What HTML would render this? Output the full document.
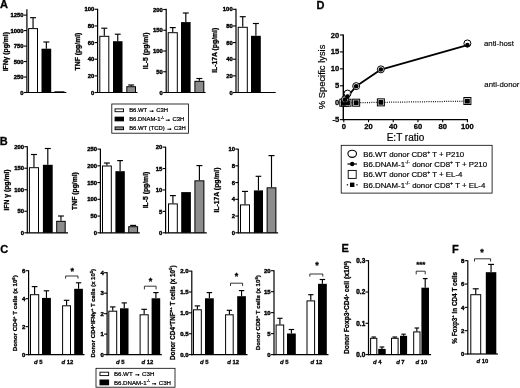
<!DOCTYPE html>
<html><head><meta charset="utf-8"><title>Figure</title>
<style>
html,body{margin:0;padding:0;background:#fff;}
body{width:520px;height:388px;overflow:hidden;}
svg{display:block;font-family:'Liberation Sans', 'DejaVu Sans', sans-serif;filter:grayscale(1);}
text{fill:#000;}
</style></head><body>
<svg width="520" height="388" viewBox="0 0 520 388">
<rect width="520" height="388" fill="#fff"/>
<text x="-0.1" y="8.2" font-size="11" font-weight="bold" text-anchor="start"  stroke="#000" stroke-width="0.28">A</text>
<text x="-0.2" y="144.7" font-size="11" font-weight="bold" text-anchor="start"  stroke="#000" stroke-width="0.28">B</text>
<text x="0.3" y="252.9" font-size="11" font-weight="bold" text-anchor="start"  stroke="#000" stroke-width="0.28">C</text>
<text x="316.6" y="8.6" font-size="11" font-weight="bold" text-anchor="start"  stroke="#000" stroke-width="0.28">D</text>
<text x="341.4" y="252.3" font-size="11" font-weight="bold" text-anchor="start"  stroke="#000" stroke-width="0.28">E</text>
<text x="452" y="252.8" font-size="11" font-weight="bold" text-anchor="start"  stroke="#000" stroke-width="0.28">F</text>
<line x1="33.05" y1="28.1" x2="33.05" y2="17.7" stroke="#000" stroke-width="1.15" />
<line x1="30.05" y1="17.7" x2="36.05" y2="17.7" stroke="#000" stroke-width="1.15" />
<rect x="28.1" y="28.1" width="9.9" height="64.4" fill="#000"/>
<rect x="29.1" y="29.1" width="7.9" height="63.4" fill="#fff"/>
<line x1="46.35" y1="48.7" x2="46.35" y2="42" stroke="#000" stroke-width="1.15" />
<line x1="43.35" y1="42" x2="49.35" y2="42" stroke="#000" stroke-width="1.15" />
<rect x="41.5" y="48.7" width="9.7" height="43.8" fill="#000"/>
<rect x="54.4" y="91.3" width="10" height="1.2" fill="#000"/>
<line x1="26.9" y1="9.15" x2="26.9" y2="93.05" stroke="#000" stroke-width="1.2" />
<line x1="26.35" y1="92.5" x2="66.3" y2="92.5" stroke="#000" stroke-width="1.2" />
<line x1="23.9" y1="92.5" x2="26.9" y2="92.5" stroke="#000" stroke-width="1.1" />
<text x="23.6" y="94.62" font-size="5.9" font-weight="bold" text-anchor="end" stroke="#000" stroke-width="0.4">0</text>
<line x1="23.9" y1="77.02" x2="26.9" y2="77.02" stroke="#000" stroke-width="1.1" />
<text x="23.6" y="79.14" font-size="5.9" font-weight="bold" text-anchor="end" stroke="#000" stroke-width="0.4">250</text>
<line x1="23.9" y1="61.54" x2="26.9" y2="61.54" stroke="#000" stroke-width="1.1" />
<text x="23.6" y="63.66" font-size="5.9" font-weight="bold" text-anchor="end" stroke="#000" stroke-width="0.4">500</text>
<line x1="23.9" y1="46.06" x2="26.9" y2="46.06" stroke="#000" stroke-width="1.1" />
<text x="23.6" y="48.18" font-size="5.9" font-weight="bold" text-anchor="end" stroke="#000" stroke-width="0.4">750</text>
<line x1="23.9" y1="30.58" x2="26.9" y2="30.58" stroke="#000" stroke-width="1.1" />
<text x="23.6" y="32.7" font-size="5.9" font-weight="bold" text-anchor="end" stroke="#000" stroke-width="0.4">1000</text>
<line x1="23.9" y1="15.1" x2="26.9" y2="15.1" stroke="#000" stroke-width="1.1" />
<text x="23.6" y="17.22" font-size="5.9" font-weight="bold" text-anchor="end" stroke="#000" stroke-width="0.4">1250</text>
<text x="7.6" y="51.7" font-size="6.8" font-weight="bold" text-anchor="middle" transform="rotate(-90 7.6 51.7)"  stroke="#000" stroke-width="0.28">IFN&#947; (pg/ml)</text>
<line x1="104.3" y1="35.8" x2="104.3" y2="28.2" stroke="#000" stroke-width="1.15" />
<line x1="101.3" y1="28.2" x2="107.3" y2="28.2" stroke="#000" stroke-width="1.15" />
<rect x="99.3" y="35.8" width="10" height="56.7" fill="#000"/>
<rect x="100.3" y="36.8" width="8" height="55.7" fill="#fff"/>
<line x1="117.75" y1="41.2" x2="117.75" y2="34.2" stroke="#000" stroke-width="1.15" />
<line x1="114.81" y1="34.2" x2="120.69" y2="34.2" stroke="#000" stroke-width="1.15" />
<rect x="113" y="41.2" width="9.5" height="51.3" fill="#000"/>
<line x1="131.15" y1="86.2" x2="131.15" y2="85" stroke="#000" stroke-width="1.15" />
<line x1="128.15" y1="85" x2="134.15" y2="85" stroke="#000" stroke-width="1.15" />
<rect x="126.3" y="86.2" width="9.7" height="6.3" fill="#000"/>
<rect x="127.3" y="87.2" width="7.7" height="5.3" fill="#8c8c8c"/>
<line x1="97.6" y1="8.85" x2="97.6" y2="93.05" stroke="#000" stroke-width="1.2" />
<line x1="97.05" y1="92.5" x2="137.5" y2="92.5" stroke="#000" stroke-width="1.2" />
<line x1="94.6" y1="92.5" x2="97.6" y2="92.5" stroke="#000" stroke-width="1.1" />
<text x="94.3" y="94.62" font-size="5.9" font-weight="bold" text-anchor="end" stroke="#000" stroke-width="0.4">0</text>
<line x1="94.6" y1="75.86" x2="97.6" y2="75.86" stroke="#000" stroke-width="1.1" />
<text x="94.3" y="77.98" font-size="5.9" font-weight="bold" text-anchor="end" stroke="#000" stroke-width="0.4">20</text>
<line x1="94.6" y1="59.22" x2="97.6" y2="59.22" stroke="#000" stroke-width="1.1" />
<text x="94.3" y="61.34" font-size="5.9" font-weight="bold" text-anchor="end" stroke="#000" stroke-width="0.4">40</text>
<line x1="94.6" y1="42.58" x2="97.6" y2="42.58" stroke="#000" stroke-width="1.1" />
<text x="94.3" y="44.7" font-size="5.9" font-weight="bold" text-anchor="end" stroke="#000" stroke-width="0.4">60</text>
<line x1="94.6" y1="25.94" x2="97.6" y2="25.94" stroke="#000" stroke-width="1.1" />
<text x="94.3" y="28.06" font-size="5.9" font-weight="bold" text-anchor="end" stroke="#000" stroke-width="0.4">80</text>
<line x1="94.6" y1="9.3" x2="97.6" y2="9.3" stroke="#000" stroke-width="1.1" />
<text x="94.3" y="11.42" font-size="5.9" font-weight="bold" text-anchor="end" stroke="#000" stroke-width="0.4">100</text>
<text x="79.6" y="51.5" font-size="6.8" font-weight="bold" text-anchor="middle" transform="rotate(-90 79.6 51.5)"  stroke="#000" stroke-width="0.28">TNF (pg/ml)</text>
<line x1="172.75" y1="32.2" x2="172.75" y2="27.6" stroke="#000" stroke-width="1.15" />
<line x1="169.75" y1="27.6" x2="175.75" y2="27.6" stroke="#000" stroke-width="1.15" />
<rect x="167.7" y="32.2" width="10.1" height="60.3" fill="#000"/>
<rect x="168.7" y="33.2" width="8.1" height="59.3" fill="#fff"/>
<line x1="185.8" y1="22.1" x2="185.8" y2="13" stroke="#000" stroke-width="1.15" />
<line x1="182.82" y1="13" x2="188.78" y2="13" stroke="#000" stroke-width="1.15" />
<rect x="181" y="22.1" width="9.6" height="70.4" fill="#000"/>
<line x1="199.35" y1="80.8" x2="199.35" y2="78.5" stroke="#000" stroke-width="1.15" />
<line x1="196.35" y1="78.5" x2="202.35" y2="78.5" stroke="#000" stroke-width="1.15" />
<rect x="194.4" y="80.8" width="9.9" height="11.7" fill="#000"/>
<rect x="195.4" y="81.8" width="7.9" height="10.7" fill="#8c8c8c"/>
<line x1="166.2" y1="8.85" x2="166.2" y2="93.05" stroke="#000" stroke-width="1.2" />
<line x1="165.65" y1="92.5" x2="205.6" y2="92.5" stroke="#000" stroke-width="1.2" />
<line x1="163.2" y1="92.5" x2="166.2" y2="92.5" stroke="#000" stroke-width="1.1" />
<text x="162.9" y="94.62" font-size="5.9" font-weight="bold" text-anchor="end" stroke="#000" stroke-width="0.4">0</text>
<line x1="163.2" y1="71.75" x2="166.2" y2="71.75" stroke="#000" stroke-width="1.1" />
<text x="162.9" y="73.87" font-size="5.9" font-weight="bold" text-anchor="end" stroke="#000" stroke-width="0.4">50</text>
<line x1="163.2" y1="51" x2="166.2" y2="51" stroke="#000" stroke-width="1.1" />
<text x="162.9" y="53.12" font-size="5.9" font-weight="bold" text-anchor="end" stroke="#000" stroke-width="0.4">100</text>
<line x1="163.2" y1="30.25" x2="166.2" y2="30.25" stroke="#000" stroke-width="1.1" />
<text x="162.9" y="32.37" font-size="5.9" font-weight="bold" text-anchor="end" stroke="#000" stroke-width="0.4">150</text>
<line x1="163.2" y1="9.5" x2="166.2" y2="9.5" stroke="#000" stroke-width="1.1" />
<text x="162.9" y="11.62" font-size="5.9" font-weight="bold" text-anchor="end" stroke="#000" stroke-width="0.4">200</text>
<text x="148.3" y="50.9" font-size="6.8" font-weight="bold" text-anchor="middle" transform="rotate(-90 148.3 50.9)"  stroke="#000" stroke-width="0.28">IL-5 (pg/ml)</text>
<line x1="242.75" y1="26.8" x2="242.75" y2="16.7" stroke="#000" stroke-width="1.15" />
<line x1="239.75" y1="16.7" x2="245.75" y2="16.7" stroke="#000" stroke-width="1.15" />
<rect x="237.7" y="26.8" width="10.1" height="65.7" fill="#000"/>
<rect x="238.7" y="27.8" width="8.1" height="64.7" fill="#fff"/>
<line x1="255.9" y1="35.8" x2="255.9" y2="23.5" stroke="#000" stroke-width="1.15" />
<line x1="252.9" y1="23.5" x2="258.9" y2="23.5" stroke="#000" stroke-width="1.15" />
<rect x="251" y="35.8" width="9.8" height="56.7" fill="#000"/>
<line x1="236" y1="8.85" x2="236" y2="93.05" stroke="#000" stroke-width="1.2" />
<line x1="235.45" y1="92.5" x2="275.7" y2="92.5" stroke="#000" stroke-width="1.2" />
<line x1="233" y1="92.5" x2="236" y2="92.5" stroke="#000" stroke-width="1.1" />
<text x="232.7" y="94.62" font-size="5.9" font-weight="bold" text-anchor="end" stroke="#000" stroke-width="0.4">0</text>
<line x1="233" y1="75.86" x2="236" y2="75.86" stroke="#000" stroke-width="1.1" />
<text x="232.7" y="77.98" font-size="5.9" font-weight="bold" text-anchor="end" stroke="#000" stroke-width="0.4">20</text>
<line x1="233" y1="59.22" x2="236" y2="59.22" stroke="#000" stroke-width="1.1" />
<text x="232.7" y="61.34" font-size="5.9" font-weight="bold" text-anchor="end" stroke="#000" stroke-width="0.4">40</text>
<line x1="233" y1="42.58" x2="236" y2="42.58" stroke="#000" stroke-width="1.1" />
<text x="232.7" y="44.7" font-size="5.9" font-weight="bold" text-anchor="end" stroke="#000" stroke-width="0.4">60</text>
<line x1="233" y1="25.94" x2="236" y2="25.94" stroke="#000" stroke-width="1.1" />
<text x="232.7" y="28.06" font-size="5.9" font-weight="bold" text-anchor="end" stroke="#000" stroke-width="0.4">80</text>
<line x1="233" y1="9.3" x2="236" y2="9.3" stroke="#000" stroke-width="1.1" />
<text x="232.7" y="11.42" font-size="5.9" font-weight="bold" text-anchor="end" stroke="#000" stroke-width="0.4">100</text>
<text x="216.6" y="50.3" font-size="6.8" font-weight="bold" text-anchor="middle" transform="rotate(-90 216.6 50.3)"  stroke="#000" stroke-width="0.28">IL-17A (pg/ml)</text>
<rect x="111.8" y="104.0" width="76.6" height="29.2" fill="#fff" stroke="#000" stroke-width="0.8"/>
<rect x="114.6" y="108.45" width="9.4" height="3.7" fill="#000"/>
<rect x="115.5" y="109.35" width="7.6" height="1.9" fill="#fff"/>
<text x="129.2" y="112.42" font-size="5.9" font-weight="normal" text-anchor="start" stroke="#000" stroke-width="0.22">B6.WT <tspan font-weight="bold" stroke-width="0.55">&#8594;</tspan> C3H</text>
<rect x="114.6" y="116.65" width="9.4" height="4.7" fill="#000"/>
<text x="129.2" y="121.12" font-size="5.9" font-weight="normal" text-anchor="start" stroke="#000" stroke-width="0.22">B6.DNAM-1<tspan font-size="3.6" dy="-2.3">-/-</tspan><tspan font-size="3" dy="2.3"> </tspan><tspan font-weight="bold" stroke-width="0.55">&#8594;</tspan> C3H</text>
<rect x="114.6" y="126.45" width="9.4" height="3.7" fill="#000"/>
<rect x="115.5" y="127.35" width="7.6" height="1.9" fill="#8c8c8c"/>
<text x="129.2" y="130.42" font-size="5.9" font-weight="normal" text-anchor="start" stroke="#000" stroke-width="0.22">B6.WT (TCD) <tspan font-weight="bold" stroke-width="0.55">&#8594;</tspan> C3H</text>
<line x1="33.95" y1="167.2" x2="33.95" y2="154.5" stroke="#000" stroke-width="1.15" />
<line x1="30.95" y1="154.5" x2="36.95" y2="154.5" stroke="#000" stroke-width="1.15" />
<rect x="28.9" y="167.2" width="10.1" height="65.6" fill="#000"/>
<rect x="29.9" y="168.2" width="8.1" height="64.6" fill="#fff"/>
<line x1="47.8" y1="164.8" x2="47.8" y2="148.5" stroke="#000" stroke-width="1.15" />
<line x1="44.8" y1="148.5" x2="50.8" y2="148.5" stroke="#000" stroke-width="1.15" />
<rect x="42.9" y="164.8" width="9.8" height="68" fill="#000"/>
<line x1="60.95" y1="220.8" x2="60.95" y2="216" stroke="#000" stroke-width="1.15" />
<line x1="58.01" y1="216" x2="63.9" y2="216" stroke="#000" stroke-width="1.15" />
<rect x="56.2" y="220.8" width="9.5" height="12" fill="#000"/>
<rect x="57.2" y="221.8" width="7.5" height="11" fill="#8c8c8c"/>
<line x1="27.3" y1="146.25" x2="27.3" y2="233.35" stroke="#000" stroke-width="1.2" />
<line x1="26.75" y1="232.8" x2="68" y2="232.8" stroke="#000" stroke-width="1.2" />
<line x1="24.3" y1="232.8" x2="27.3" y2="232.8" stroke="#000" stroke-width="1.1" />
<text x="24" y="234.92" font-size="5.9" font-weight="bold" text-anchor="end" stroke="#000" stroke-width="0.4">0</text>
<line x1="24.3" y1="211.28" x2="27.3" y2="211.28" stroke="#000" stroke-width="1.1" />
<text x="24" y="213.4" font-size="5.9" font-weight="bold" text-anchor="end" stroke="#000" stroke-width="0.4">50</text>
<line x1="24.3" y1="189.75" x2="27.3" y2="189.75" stroke="#000" stroke-width="1.1" />
<text x="24" y="191.87" font-size="5.9" font-weight="bold" text-anchor="end" stroke="#000" stroke-width="0.4">100</text>
<line x1="24.3" y1="168.22" x2="27.3" y2="168.22" stroke="#000" stroke-width="1.1" />
<text x="24" y="170.35" font-size="5.9" font-weight="bold" text-anchor="end" stroke="#000" stroke-width="0.4">150</text>
<line x1="24.3" y1="146.7" x2="27.3" y2="146.7" stroke="#000" stroke-width="1.1" />
<text x="24" y="148.82" font-size="5.9" font-weight="bold" text-anchor="end" stroke="#000" stroke-width="0.4">200</text>
<text x="8.9" y="190" font-size="6.8" font-weight="bold" text-anchor="middle" transform="rotate(-90 8.9 190)"  stroke="#000" stroke-width="0.28">IFN &#947; (pg/ml)</text>
<line x1="106.9" y1="165.5" x2="106.9" y2="163" stroke="#000" stroke-width="1.15" />
<line x1="103.9" y1="163" x2="109.9" y2="163" stroke="#000" stroke-width="1.15" />
<rect x="102" y="165.5" width="9.8" height="67.3" fill="#000"/>
<rect x="103" y="166.5" width="7.8" height="66.3" fill="#fff"/>
<line x1="120.1" y1="171.2" x2="120.1" y2="160.6" stroke="#000" stroke-width="1.15" />
<line x1="117.19" y1="160.6" x2="123.01" y2="160.6" stroke="#000" stroke-width="1.15" />
<rect x="115.4" y="171.2" width="9.4" height="61.6" fill="#000"/>
<line x1="133.15" y1="226.2" x2="133.15" y2="225.4" stroke="#000" stroke-width="1.15" />
<line x1="130.15" y1="225.4" x2="136.15" y2="225.4" stroke="#000" stroke-width="1.15" />
<rect x="128.2" y="226.2" width="9.9" height="6.6" fill="#000"/>
<rect x="129.2" y="227.2" width="7.9" height="5.6" fill="#8c8c8c"/>
<line x1="100.4" y1="148.65" x2="100.4" y2="233.35" stroke="#000" stroke-width="1.2" />
<line x1="99.85" y1="232.8" x2="139.8" y2="232.8" stroke="#000" stroke-width="1.2" />
<line x1="97.4" y1="232.8" x2="100.4" y2="232.8" stroke="#000" stroke-width="1.1" />
<text x="97.1" y="234.92" font-size="5.9" font-weight="bold" text-anchor="end" stroke="#000" stroke-width="0.4">0</text>
<line x1="97.4" y1="216.06" x2="100.4" y2="216.06" stroke="#000" stroke-width="1.1" />
<text x="97.1" y="218.18" font-size="5.9" font-weight="bold" text-anchor="end" stroke="#000" stroke-width="0.4">50</text>
<line x1="97.4" y1="199.32" x2="100.4" y2="199.32" stroke="#000" stroke-width="1.1" />
<text x="97.1" y="201.44" font-size="5.9" font-weight="bold" text-anchor="end" stroke="#000" stroke-width="0.4">100</text>
<line x1="97.4" y1="182.58" x2="100.4" y2="182.58" stroke="#000" stroke-width="1.1" />
<text x="97.1" y="184.7" font-size="5.9" font-weight="bold" text-anchor="end" stroke="#000" stroke-width="0.4">150</text>
<line x1="97.4" y1="165.84" x2="100.4" y2="165.84" stroke="#000" stroke-width="1.1" />
<text x="97.1" y="167.96" font-size="5.9" font-weight="bold" text-anchor="end" stroke="#000" stroke-width="0.4">200</text>
<line x1="97.4" y1="149.1" x2="100.4" y2="149.1" stroke="#000" stroke-width="1.1" />
<text x="97.1" y="151.22" font-size="5.9" font-weight="bold" text-anchor="end" stroke="#000" stroke-width="0.4">250</text>
<text x="77" y="191" font-size="6.8" font-weight="bold" text-anchor="middle" transform="rotate(-90 77 191)"  stroke="#000" stroke-width="0.28">TNF (pg/ml)</text>
<line x1="172.9" y1="203.4" x2="172.9" y2="195.6" stroke="#000" stroke-width="1.15" />
<line x1="169.9" y1="195.6" x2="175.9" y2="195.6" stroke="#000" stroke-width="1.15" />
<rect x="168" y="203.4" width="9.8" height="29.4" fill="#000"/>
<rect x="169" y="204.4" width="7.8" height="28.4" fill="#fff"/>
<rect x="181.2" y="192.1" width="9.7" height="40.7" fill="#000"/>
<line x1="199.4" y1="180.3" x2="199.4" y2="165.6" stroke="#000" stroke-width="1.15" />
<line x1="196.4" y1="165.6" x2="202.4" y2="165.6" stroke="#000" stroke-width="1.15" />
<rect x="194.4" y="180.3" width="10" height="52.5" fill="#000"/>
<rect x="195.4" y="181.3" width="8" height="51.5" fill="#8c8c8c"/>
<line x1="165.6" y1="146.65" x2="165.6" y2="233.35" stroke="#000" stroke-width="1.2" />
<line x1="165.05" y1="232.8" x2="206.8" y2="232.8" stroke="#000" stroke-width="1.2" />
<line x1="162.6" y1="232.8" x2="165.6" y2="232.8" stroke="#000" stroke-width="1.1" />
<text x="162.3" y="234.92" font-size="5.9" font-weight="bold" text-anchor="end" stroke="#000" stroke-width="0.4">0</text>
<line x1="162.6" y1="211.38" x2="165.6" y2="211.38" stroke="#000" stroke-width="1.1" />
<text x="162.3" y="213.5" font-size="5.9" font-weight="bold" text-anchor="end" stroke="#000" stroke-width="0.4">5</text>
<line x1="162.6" y1="189.95" x2="165.6" y2="189.95" stroke="#000" stroke-width="1.1" />
<text x="162.3" y="192.07" font-size="5.9" font-weight="bold" text-anchor="end" stroke="#000" stroke-width="0.4">10</text>
<line x1="162.6" y1="168.53" x2="165.6" y2="168.53" stroke="#000" stroke-width="1.1" />
<text x="162.3" y="170.65" font-size="5.9" font-weight="bold" text-anchor="end" stroke="#000" stroke-width="0.4">15</text>
<line x1="162.6" y1="147.1" x2="165.6" y2="147.1" stroke="#000" stroke-width="1.1" />
<text x="162.3" y="149.22" font-size="5.9" font-weight="bold" text-anchor="end" stroke="#000" stroke-width="0.4">20</text>
<text x="147.5" y="190" font-size="6.8" font-weight="bold" text-anchor="middle" transform="rotate(-90 147.5 190)"  stroke="#000" stroke-width="0.28">IL-5 (pg/ml)</text>
<line x1="245" y1="204.4" x2="245" y2="191.4" stroke="#000" stroke-width="1.15" />
<line x1="242" y1="191.4" x2="248" y2="191.4" stroke="#000" stroke-width="1.15" />
<rect x="240" y="204.4" width="10" height="28.4" fill="#000"/>
<rect x="241" y="205.4" width="8" height="27.4" fill="#fff"/>
<line x1="258.45" y1="190.4" x2="258.45" y2="176.3" stroke="#000" stroke-width="1.15" />
<line x1="255.63" y1="176.3" x2="261.27" y2="176.3" stroke="#000" stroke-width="1.15" />
<rect x="253.9" y="190.4" width="9.1" height="42.4" fill="#000"/>
<line x1="271.5" y1="187.3" x2="271.5" y2="155.6" stroke="#000" stroke-width="1.15" />
<line x1="268.5" y1="155.6" x2="274.5" y2="155.6" stroke="#000" stroke-width="1.15" />
<rect x="266.6" y="187.3" width="9.8" height="45.5" fill="#000"/>
<rect x="267.6" y="188.3" width="7.8" height="44.5" fill="#8c8c8c"/>
<line x1="238.3" y1="148.65" x2="238.3" y2="233.35" stroke="#000" stroke-width="1.2" />
<line x1="237.75" y1="232.8" x2="278.1" y2="232.8" stroke="#000" stroke-width="1.2" />
<line x1="235.3" y1="232.8" x2="238.3" y2="232.8" stroke="#000" stroke-width="1.1" />
<text x="235" y="234.92" font-size="5.9" font-weight="bold" text-anchor="end" stroke="#000" stroke-width="0.4">0</text>
<line x1="235.3" y1="216.06" x2="238.3" y2="216.06" stroke="#000" stroke-width="1.1" />
<text x="235" y="218.18" font-size="5.9" font-weight="bold" text-anchor="end" stroke="#000" stroke-width="0.4">2</text>
<line x1="235.3" y1="199.32" x2="238.3" y2="199.32" stroke="#000" stroke-width="1.1" />
<text x="235" y="201.44" font-size="5.9" font-weight="bold" text-anchor="end" stroke="#000" stroke-width="0.4">4</text>
<line x1="235.3" y1="182.58" x2="238.3" y2="182.58" stroke="#000" stroke-width="1.1" />
<text x="235" y="184.7" font-size="5.9" font-weight="bold" text-anchor="end" stroke="#000" stroke-width="0.4">6</text>
<line x1="235.3" y1="165.84" x2="238.3" y2="165.84" stroke="#000" stroke-width="1.1" />
<text x="235" y="167.96" font-size="5.9" font-weight="bold" text-anchor="end" stroke="#000" stroke-width="0.4">8</text>
<line x1="235.3" y1="149.1" x2="238.3" y2="149.1" stroke="#000" stroke-width="1.1" />
<text x="235" y="151.22" font-size="5.9" font-weight="bold" text-anchor="end" stroke="#000" stroke-width="0.4">10</text>
<text x="218.6" y="190" font-size="6.8" font-weight="bold" text-anchor="middle" transform="rotate(-90 218.6 190)"  stroke="#000" stroke-width="0.28">IL-17A (pg/ml)</text>
<line x1="34.6" y1="294.2" x2="34.6" y2="286.6" stroke="#000" stroke-width="1.15" />
<line x1="31.75" y1="286.6" x2="37.45" y2="286.6" stroke="#000" stroke-width="1.15" />
<rect x="30" y="294.2" width="9.2" height="60.4" fill="#000"/>
<rect x="31" y="295.2" width="7.2" height="59.4" fill="#fff"/>
<line x1="46.45" y1="297.9" x2="46.45" y2="290.8" stroke="#000" stroke-width="1.15" />
<line x1="43.69" y1="290.8" x2="49.21" y2="290.8" stroke="#000" stroke-width="1.15" />
<rect x="42" y="297.9" width="8.9" height="56.7" fill="#000"/>
<line x1="66.55" y1="305.3" x2="66.55" y2="300.3" stroke="#000" stroke-width="1.15" />
<line x1="63.79" y1="300.3" x2="69.31" y2="300.3" stroke="#000" stroke-width="1.15" />
<rect x="62.1" y="305.3" width="8.9" height="49.3" fill="#000"/>
<rect x="63.1" y="306.3" width="6.9" height="48.3" fill="#fff"/>
<line x1="78.55" y1="288.8" x2="78.55" y2="282.8" stroke="#000" stroke-width="1.15" />
<line x1="75.85" y1="282.8" x2="81.25" y2="282.8" stroke="#000" stroke-width="1.15" />
<rect x="74.2" y="288.8" width="8.7" height="65.8" fill="#000"/>
<line x1="28.6" y1="270.25" x2="28.6" y2="355.15" stroke="#000" stroke-width="1.2" />
<line x1="28.05" y1="354.6" x2="84.5" y2="354.6" stroke="#000" stroke-width="1.2" />
<line x1="25.6" y1="354.6" x2="28.6" y2="354.6" stroke="#000" stroke-width="1.1" />
<text x="25.3" y="356.76" font-size="6" font-weight="bold" text-anchor="end" stroke="#000" stroke-width="0.4">0</text>
<line x1="25.6" y1="326.63" x2="28.6" y2="326.63" stroke="#000" stroke-width="1.1" />
<text x="25.3" y="328.79" font-size="6" font-weight="bold" text-anchor="end" stroke="#000" stroke-width="0.4">2</text>
<line x1="25.6" y1="298.67" x2="28.6" y2="298.67" stroke="#000" stroke-width="1.1" />
<text x="25.3" y="300.83" font-size="6" font-weight="bold" text-anchor="end" stroke="#000" stroke-width="0.4">4</text>
<line x1="25.6" y1="270.7" x2="28.6" y2="270.7" stroke="#000" stroke-width="1.1" />
<text x="25.3" y="272.86" font-size="6" font-weight="bold" text-anchor="end" stroke="#000" stroke-width="0.4">6</text>
<text x="17.3" y="313.2" font-size="6.2" font-weight="bold" text-anchor="middle" transform="rotate(-90 17.3 313.2)"  stroke="#000" stroke-width="0.28">Donor CD4<tspan font-size="4.2" dy="-2.4">+</tspan><tspan font-size="4.2" dy="2.4">&#8203;</tspan> T cells (x 10<tspan font-size="4.2" dy="-2.4">6</tspan><tspan font-size="4.2" dy="2.4">&#8203;</tspan>)</text>
<text x="38.2" y="363.6" font-size="5.9" font-weight="bold" text-anchor="middle" stroke="#000" stroke-width="0.28"><tspan font-style="italic">d</tspan> 5</text>
<text x="67.4" y="363.6" font-size="5.9" font-weight="bold" text-anchor="middle" stroke="#000" stroke-width="0.28"><tspan font-style="italic">d</tspan> 12</text>
<path d="M65.6 278.6 V276 H78 V278.6" fill="none" stroke="#000" stroke-width="0.8"/>
<text x="72.2" y="274.26" font-size="9" font-weight="bold" text-anchor="middle"  stroke="#000" stroke-width="0.28">*</text>
<line x1="112.75" y1="310.7" x2="112.75" y2="306.9" stroke="#000" stroke-width="1.15" />
<line x1="109.99" y1="306.9" x2="115.51" y2="306.9" stroke="#000" stroke-width="1.15" />
<rect x="108.3" y="310.7" width="8.9" height="43.9" fill="#000"/>
<rect x="109.3" y="311.7" width="6.9" height="42.9" fill="#fff"/>
<line x1="124.25" y1="308.3" x2="124.25" y2="302.9" stroke="#000" stroke-width="1.15" />
<line x1="121.61" y1="302.9" x2="126.89" y2="302.9" stroke="#000" stroke-width="1.15" />
<rect x="120" y="308.3" width="8.5" height="46.3" fill="#000"/>
<line x1="144.15" y1="314.3" x2="144.15" y2="309.3" stroke="#000" stroke-width="1.15" />
<line x1="141.33" y1="309.3" x2="146.97" y2="309.3" stroke="#000" stroke-width="1.15" />
<rect x="139.6" y="314.3" width="9.1" height="40.3" fill="#000"/>
<rect x="140.6" y="315.3" width="7.1" height="39.3" fill="#fff"/>
<line x1="155.9" y1="298.3" x2="155.9" y2="292.6" stroke="#000" stroke-width="1.15" />
<line x1="153.23" y1="292.6" x2="158.57" y2="292.6" stroke="#000" stroke-width="1.15" />
<rect x="151.6" y="298.3" width="8.6" height="56.3" fill="#000"/>
<line x1="107.1" y1="272.25" x2="107.1" y2="355.15" stroke="#000" stroke-width="1.2" />
<line x1="106.55" y1="354.6" x2="161.8" y2="354.6" stroke="#000" stroke-width="1.2" />
<line x1="104.1" y1="354.6" x2="107.1" y2="354.6" stroke="#000" stroke-width="1.1" />
<text x="103.8" y="356.76" font-size="6" font-weight="bold" text-anchor="end" stroke="#000" stroke-width="0.4">0</text>
<line x1="104.1" y1="334.12" x2="107.1" y2="334.12" stroke="#000" stroke-width="1.1" />
<text x="103.8" y="336.29" font-size="6" font-weight="bold" text-anchor="end" stroke="#000" stroke-width="0.4">1</text>
<line x1="104.1" y1="313.65" x2="107.1" y2="313.65" stroke="#000" stroke-width="1.1" />
<text x="103.8" y="315.81" font-size="6" font-weight="bold" text-anchor="end" stroke="#000" stroke-width="0.4">2</text>
<line x1="104.1" y1="293.18" x2="107.1" y2="293.18" stroke="#000" stroke-width="1.1" />
<text x="103.8" y="295.34" font-size="6" font-weight="bold" text-anchor="end" stroke="#000" stroke-width="0.4">3</text>
<line x1="104.1" y1="272.7" x2="107.1" y2="272.7" stroke="#000" stroke-width="1.1" />
<text x="103.8" y="274.86" font-size="6" font-weight="bold" text-anchor="end" stroke="#000" stroke-width="0.4">4</text>
<text x="95.4" y="313.2" font-size="5.95" font-weight="bold" text-anchor="middle" transform="rotate(-90 95.4 313.2)"  stroke="#000" stroke-width="0.28">Donor CD4<tspan font-size="4.2" dy="-2.4">+</tspan><tspan font-size="4.2" dy="2.4">&#8203;</tspan>IFN&#947;<tspan font-size="4.2" dy="-2.4">+</tspan><tspan font-size="4.2" dy="2.4">&#8203;</tspan> T cells (x 10<tspan font-size="4.2" dy="-2.4">5</tspan><tspan font-size="4.2" dy="2.4">&#8203;</tspan>)</text>
<text x="120.3" y="363.6" font-size="5.9" font-weight="bold" text-anchor="middle" stroke="#000" stroke-width="0.28"><tspan font-style="italic">d</tspan> 5</text>
<text x="147.5" y="363.6" font-size="5.9" font-weight="bold" text-anchor="middle" stroke="#000" stroke-width="0.28"><tspan font-style="italic">d</tspan> 12</text>
<path d="M144.4 289.4 V286.2 H156.1 V289.4" fill="none" stroke="#000" stroke-width="0.8"/>
<text x="150.5" y="283.76" font-size="9" font-weight="bold" text-anchor="middle"  stroke="#000" stroke-width="0.28">*</text>
<line x1="197.4" y1="309.3" x2="197.4" y2="305.9" stroke="#000" stroke-width="1.15" />
<line x1="194.67" y1="305.9" x2="200.13" y2="305.9" stroke="#000" stroke-width="1.15" />
<rect x="193" y="309.3" width="8.8" height="45.3" fill="#000"/>
<rect x="194" y="310.3" width="6.8" height="44.3" fill="#fff"/>
<line x1="209.4" y1="298.3" x2="209.4" y2="292.6" stroke="#000" stroke-width="1.15" />
<line x1="206.67" y1="292.6" x2="212.13" y2="292.6" stroke="#000" stroke-width="1.15" />
<rect x="205" y="298.3" width="8.8" height="56.3" fill="#000"/>
<line x1="229.4" y1="314.3" x2="229.4" y2="310.3" stroke="#000" stroke-width="1.15" />
<line x1="226.73" y1="310.3" x2="232.07" y2="310.3" stroke="#000" stroke-width="1.15" />
<rect x="225.1" y="314.3" width="8.6" height="40.3" fill="#000"/>
<rect x="226.1" y="315.3" width="6.6" height="39.3" fill="#fff"/>
<line x1="241.55" y1="296.2" x2="241.55" y2="290.6" stroke="#000" stroke-width="1.15" />
<line x1="238.85" y1="290.6" x2="244.25" y2="290.6" stroke="#000" stroke-width="1.15" />
<rect x="237.2" y="296.2" width="8.7" height="58.4" fill="#000"/>
<line x1="191.8" y1="270.65" x2="191.8" y2="355.15" stroke="#000" stroke-width="1.2" />
<line x1="191.25" y1="354.6" x2="247.5" y2="354.6" stroke="#000" stroke-width="1.2" />
<line x1="188.8" y1="354.6" x2="191.8" y2="354.6" stroke="#000" stroke-width="1.1" />
<text x="188.5" y="356.76" font-size="6" font-weight="bold" text-anchor="end" stroke="#000" stroke-width="0.4">0.0</text>
<line x1="188.8" y1="333.73" x2="191.8" y2="333.73" stroke="#000" stroke-width="1.1" />
<text x="188.5" y="335.89" font-size="6" font-weight="bold" text-anchor="end" stroke="#000" stroke-width="0.4">0.5</text>
<line x1="188.8" y1="312.85" x2="191.8" y2="312.85" stroke="#000" stroke-width="1.1" />
<text x="188.5" y="315.01" font-size="6" font-weight="bold" text-anchor="end" stroke="#000" stroke-width="0.4">1.0</text>
<line x1="188.8" y1="291.98" x2="191.8" y2="291.98" stroke="#000" stroke-width="1.1" />
<text x="188.5" y="294.14" font-size="6" font-weight="bold" text-anchor="end" stroke="#000" stroke-width="0.4">1.5</text>
<line x1="188.8" y1="271.1" x2="191.8" y2="271.1" stroke="#000" stroke-width="1.1" />
<text x="188.5" y="273.26" font-size="6" font-weight="bold" text-anchor="end" stroke="#000" stroke-width="0.4">2.0</text>
<text x="174.6" y="312.7" font-size="6.3" font-weight="bold" text-anchor="middle" transform="rotate(-90 174.6 312.7)"  stroke="#000" stroke-width="0.28">Donor CD4<tspan font-size="4.2" dy="-2.4">+</tspan><tspan font-size="4.2" dy="2.4">&#8203;</tspan>TNF<tspan font-size="4.2" dy="-2.4">&#945;</tspan><tspan font-size="4.2" dy="2.4">&#8203;</tspan><tspan font-size="4.2" dy="-2.4">+</tspan><tspan font-size="4.2" dy="2.4">&#8203;</tspan> T cells (x 10<tspan font-size="4.2" dy="-2.4">5</tspan><tspan font-size="4.2" dy="2.4">&#8203;</tspan>)</text>
<text x="204.3" y="363.6" font-size="5.9" font-weight="bold" text-anchor="middle" stroke="#000" stroke-width="0.28"><tspan font-style="italic">d</tspan> 5</text>
<text x="233.1" y="363.6" font-size="5.9" font-weight="bold" text-anchor="middle" stroke="#000" stroke-width="0.28"><tspan font-style="italic">d</tspan> 12</text>
<path d="M230.5 286 V283.2 H242.6 V286" fill="none" stroke="#000" stroke-width="0.8"/>
<text x="236.5" y="279.26" font-size="9" font-weight="bold" text-anchor="middle"  stroke="#000" stroke-width="0.28">*</text>
<line x1="279.9" y1="324.5" x2="279.9" y2="318.3" stroke="#000" stroke-width="1.15" />
<line x1="277.23" y1="318.3" x2="282.57" y2="318.3" stroke="#000" stroke-width="1.15" />
<rect x="275.6" y="324.5" width="8.6" height="30.1" fill="#000"/>
<rect x="276.6" y="325.5" width="6.6" height="29.1" fill="#fff"/>
<line x1="291.4" y1="333.5" x2="291.4" y2="329.5" stroke="#000" stroke-width="1.15" />
<line x1="288.67" y1="329.5" x2="294.13" y2="329.5" stroke="#000" stroke-width="1.15" />
<rect x="287" y="333.5" width="8.8" height="21.1" fill="#000"/>
<line x1="310.8" y1="300.4" x2="310.8" y2="294.7" stroke="#000" stroke-width="1.15" />
<line x1="308.13" y1="294.7" x2="313.47" y2="294.7" stroke="#000" stroke-width="1.15" />
<rect x="306.5" y="300.4" width="8.6" height="54.2" fill="#000"/>
<rect x="307.5" y="301.4" width="6.6" height="53.2" fill="#fff"/>
<line x1="322.4" y1="283.8" x2="322.4" y2="279.5" stroke="#000" stroke-width="1.15" />
<line x1="319.67" y1="279.5" x2="325.13" y2="279.5" stroke="#000" stroke-width="1.15" />
<rect x="318" y="283.8" width="8.8" height="70.8" fill="#000"/>
<line x1="274" y1="270.25" x2="274" y2="355.15" stroke="#000" stroke-width="1.2" />
<line x1="273.45" y1="354.6" x2="328.5" y2="354.6" stroke="#000" stroke-width="1.2" />
<line x1="271" y1="354.6" x2="274" y2="354.6" stroke="#000" stroke-width="1.1" />
<text x="270.7" y="356.76" font-size="6" font-weight="bold" text-anchor="end" stroke="#000" stroke-width="0.4">0</text>
<line x1="271" y1="333.62" x2="274" y2="333.62" stroke="#000" stroke-width="1.1" />
<text x="270.7" y="335.79" font-size="6" font-weight="bold" text-anchor="end" stroke="#000" stroke-width="0.4">5</text>
<line x1="271" y1="312.65" x2="274" y2="312.65" stroke="#000" stroke-width="1.1" />
<text x="270.7" y="314.81" font-size="6" font-weight="bold" text-anchor="end" stroke="#000" stroke-width="0.4">10</text>
<line x1="271" y1="291.68" x2="274" y2="291.68" stroke="#000" stroke-width="1.1" />
<text x="270.7" y="293.84" font-size="6" font-weight="bold" text-anchor="end" stroke="#000" stroke-width="0.4">15</text>
<line x1="271" y1="270.7" x2="274" y2="270.7" stroke="#000" stroke-width="1.1" />
<text x="270.7" y="272.86" font-size="6" font-weight="bold" text-anchor="end" stroke="#000" stroke-width="0.4">20</text>
<text x="260.5" y="312.7" font-size="6.1" font-weight="bold" text-anchor="middle" transform="rotate(-90 260.5 312.7)"  stroke="#000" stroke-width="0.28">Donor CD8<tspan font-size="4.2" dy="-2.4">+</tspan><tspan font-size="4.2" dy="2.4">&#8203;</tspan> T cells (x 10<tspan font-size="4.2" dy="-2.4">6</tspan><tspan font-size="4.2" dy="2.4">&#8203;</tspan>)</text>
<text x="284.3" y="363.6" font-size="5.9" font-weight="bold" text-anchor="middle" stroke="#000" stroke-width="0.28"><tspan font-style="italic">d</tspan> 5</text>
<text x="316.5" y="363.6" font-size="5.9" font-weight="bold" text-anchor="middle" stroke="#000" stroke-width="0.28"><tspan font-style="italic">d</tspan> 12</text>
<path d="M309.8 276.6 V274 H322.8 V276.6" fill="none" stroke="#000" stroke-width="0.8"/>
<text x="316.9" y="267.86" font-size="9" font-weight="bold" text-anchor="middle"  stroke="#000" stroke-width="0.28">*</text>
<rect x="96.0" y="368.3" width="79.0" height="18.9" fill="#fff" stroke="#000" stroke-width="0.8"/>
<rect x="99.5" y="371.75" width="9.6" height="4.3" fill="#000"/>
<rect x="100.4" y="372.65" width="7.8" height="2.5" fill="#fff"/>
<text x="113.9" y="376.11" font-size="6.15" font-weight="normal" text-anchor="start" stroke="#000" stroke-width="0.22">B6.WT <tspan font-weight="bold" stroke-width="0.55">&#8594;</tspan> C3H</text>
<rect x="99.5" y="379.5" width="9.6" height="5.8" fill="#000"/>
<text x="113.9" y="384.61" font-size="6.15" font-weight="normal" text-anchor="start" stroke="#000" stroke-width="0.22">B6.DNAM-1<tspan font-size="3.6" dy="-2.3">-/-</tspan><tspan font-size="3" dy="2.3"> </tspan><tspan font-weight="bold" stroke-width="0.55">&#8594;</tspan> C3H</text>
<line x1="373.7" y1="337.8" x2="373.7" y2="337" stroke="#000" stroke-width="1.15" />
<line x1="371.47" y1="337" x2="375.93" y2="337" stroke="#000" stroke-width="1.15" />
<rect x="370.1" y="337.8" width="7.2" height="16.8" fill="#000"/>
<rect x="371.1" y="338.8" width="5.2" height="15.8" fill="#fff"/>
<line x1="381.95" y1="348.9" x2="381.95" y2="347" stroke="#000" stroke-width="1.15" />
<line x1="379.62" y1="347" x2="384.27" y2="347" stroke="#000" stroke-width="1.15" />
<rect x="378.2" y="348.9" width="7.5" height="5.7" fill="#000"/>
<line x1="394.8" y1="337.8" x2="394.8" y2="337" stroke="#000" stroke-width="1.15" />
<line x1="392.44" y1="337" x2="397.16" y2="337" stroke="#000" stroke-width="1.15" />
<rect x="391" y="337.8" width="7.6" height="16.8" fill="#000"/>
<rect x="392" y="338.8" width="5.6" height="15.8" fill="#fff"/>
<line x1="403.55" y1="335.8" x2="403.55" y2="334.2" stroke="#000" stroke-width="1.15" />
<line x1="401.35" y1="334.2" x2="405.75" y2="334.2" stroke="#000" stroke-width="1.15" />
<rect x="400" y="335.8" width="7.1" height="18.8" fill="#000"/>
<line x1="416.85" y1="331.4" x2="416.85" y2="328" stroke="#000" stroke-width="1.15" />
<line x1="414.59" y1="328" x2="419.11" y2="328" stroke="#000" stroke-width="1.15" />
<rect x="413.2" y="331.4" width="7.3" height="23.2" fill="#000"/>
<rect x="414.2" y="332.4" width="5.3" height="22.2" fill="#fff"/>
<line x1="425.2" y1="287.7" x2="425.2" y2="278.6" stroke="#000" stroke-width="1.15" />
<line x1="422.84" y1="278.6" x2="427.56" y2="278.6" stroke="#000" stroke-width="1.15" />
<rect x="421.4" y="287.7" width="7.6" height="66.9" fill="#000"/>
<line x1="368.5" y1="260.25" x2="368.5" y2="355.15" stroke="#000" stroke-width="1.2" />
<line x1="367.95" y1="354.6" x2="431.1" y2="354.6" stroke="#000" stroke-width="1.2" />
<line x1="365.5" y1="354.6" x2="368.5" y2="354.6" stroke="#000" stroke-width="1.1" />
<text x="365.2" y="356.9" font-size="6.4" font-weight="bold" text-anchor="end" stroke="#000" stroke-width="0.4">0.0</text>
<line x1="365.5" y1="323.3" x2="368.5" y2="323.3" stroke="#000" stroke-width="1.1" />
<text x="365.2" y="325.6" font-size="6.4" font-weight="bold" text-anchor="end" stroke="#000" stroke-width="0.4">0.1</text>
<line x1="365.5" y1="292" x2="368.5" y2="292" stroke="#000" stroke-width="1.1" />
<text x="365.2" y="294.3" font-size="6.4" font-weight="bold" text-anchor="end" stroke="#000" stroke-width="0.4">0.2</text>
<line x1="365.5" y1="260.7" x2="368.5" y2="260.7" stroke="#000" stroke-width="1.1" />
<text x="365.2" y="263" font-size="6.4" font-weight="bold" text-anchor="end" stroke="#000" stroke-width="0.4">0.3</text>
<text x="349.4" y="307.5" font-size="6.75" font-weight="bold" text-anchor="middle" transform="rotate(-90 349.4 307.5)"  stroke="#000" stroke-width="0.28">Donor Foxp3<tspan font-size="4.2" dy="-2.4">+</tspan><tspan font-size="4.2" dy="2.4">&#8203;</tspan>CD4<tspan font-size="4.2" dy="-2.4">+</tspan><tspan font-size="4.2" dy="2.4">&#8203;</tspan> cell (x10<tspan font-size="4.2" dy="-2.4">6</tspan><tspan font-size="4.2" dy="2.4">&#8203;</tspan>)</text>
<text x="377.2" y="363.6" font-size="5.9" font-weight="bold" text-anchor="middle" stroke="#000" stroke-width="0.28"><tspan font-style="italic">d</tspan> 4</text>
<text x="400.4" y="363.6" font-size="5.9" font-weight="bold" text-anchor="middle" stroke="#000" stroke-width="0.28"><tspan font-style="italic">d</tspan> 7</text>
<text x="421.5" y="363.6" font-size="5.9" font-weight="bold" text-anchor="middle" stroke="#000" stroke-width="0.28"><tspan font-style="italic">d</tspan> 10</text>
<path d="M416.2 274.4 V271.2 H425.2 V274.4" fill="none" stroke="#000" stroke-width="0.8"/>
<text x="420.8" y="267.32" font-size="8" font-weight="bold" text-anchor="middle"  stroke="#000" stroke-width="0.28">***</text>
<line x1="475.75" y1="294.2" x2="475.75" y2="288.8" stroke="#000" stroke-width="1.15" />
<line x1="472.75" y1="288.8" x2="478.75" y2="288.8" stroke="#000" stroke-width="1.15" />
<rect x="470.3" y="294.2" width="10.9" height="59.8" fill="#000"/>
<rect x="471.3" y="295.2" width="8.9" height="58.8" fill="#fff"/>
<line x1="491.05" y1="272.2" x2="491.05" y2="264.4" stroke="#000" stroke-width="1.15" />
<line x1="488.05" y1="264.4" x2="494.05" y2="264.4" stroke="#000" stroke-width="1.15" />
<rect x="485.8" y="272.2" width="10.5" height="81.8" fill="#000"/>
<line x1="467.8" y1="260.25" x2="467.8" y2="354.55" stroke="#000" stroke-width="1.2" />
<line x1="467.25" y1="354" x2="497.9" y2="354" stroke="#000" stroke-width="1.2" />
<line x1="464.6" y1="354" x2="467.8" y2="354" stroke="#000" stroke-width="1.1" />
<text x="464.3" y="356.16" font-size="6" font-weight="bold" text-anchor="end" stroke="#000" stroke-width="0.4">0</text>
<line x1="464.6" y1="330.68" x2="467.8" y2="330.68" stroke="#000" stroke-width="1.1" />
<text x="464.3" y="332.84" font-size="6" font-weight="bold" text-anchor="end" stroke="#000" stroke-width="0.4">2</text>
<line x1="464.6" y1="307.35" x2="467.8" y2="307.35" stroke="#000" stroke-width="1.1" />
<text x="464.3" y="309.51" font-size="6" font-weight="bold" text-anchor="end" stroke="#000" stroke-width="0.4">4</text>
<line x1="464.6" y1="284.02" x2="467.8" y2="284.02" stroke="#000" stroke-width="1.1" />
<text x="464.3" y="286.19" font-size="6" font-weight="bold" text-anchor="end" stroke="#000" stroke-width="0.4">6</text>
<line x1="464.6" y1="260.7" x2="467.8" y2="260.7" stroke="#000" stroke-width="1.1" />
<text x="464.3" y="262.86" font-size="6" font-weight="bold" text-anchor="end" stroke="#000" stroke-width="0.4">8</text>
<text x="456.7" y="307.8" font-size="6.35" font-weight="bold" text-anchor="middle" transform="rotate(-90 456.7 307.8)"  stroke="#000" stroke-width="0.28">% Foxp3<tspan font-size="4.2" dy="-2.4">+</tspan><tspan font-size="4.2" dy="2.4">&#8203;</tspan> in CD4 T cells</text>
<text x="482.3" y="363.2" font-size="5.9" font-weight="bold" text-anchor="middle" stroke="#000" stroke-width="0.28"><tspan font-style="italic">d</tspan> 10</text>
<path d="M474.5 261.5 V258.8 H490.6 V261.5" fill="none" stroke="#000" stroke-width="0.8"/>
<text x="481.9" y="254.76" font-size="9" font-weight="bold" text-anchor="middle"  stroke="#000" stroke-width="0.28">*</text>
<line x1="343.3" y1="34.48" x2="343.3" y2="120.33" stroke="#000" stroke-width="1.4" />
<line x1="342.6" y1="119.63" x2="468" y2="119.63" stroke="#000" stroke-width="1.4" />
<line x1="339.9" y1="119.63" x2="343.3" y2="119.63" stroke="#000" stroke-width="1.1" />
<text x="339.3" y="122.18" font-size="7.6" font-weight="bold" text-anchor="end"  stroke="#000" stroke-width="0.28">-5</text>
<line x1="339.9" y1="102.7" x2="343.3" y2="102.7" stroke="#000" stroke-width="1.1" />
<text x="339.3" y="105.25" font-size="7.6" font-weight="bold" text-anchor="end"  stroke="#000" stroke-width="0.28">0</text>
<line x1="339.9" y1="85.77" x2="343.3" y2="85.77" stroke="#000" stroke-width="1.1" />
<text x="339.3" y="88.32" font-size="7.6" font-weight="bold" text-anchor="end"  stroke="#000" stroke-width="0.28">5</text>
<line x1="339.9" y1="68.84" x2="343.3" y2="68.84" stroke="#000" stroke-width="1.1" />
<text x="339.3" y="71.39" font-size="7.6" font-weight="bold" text-anchor="end"  stroke="#000" stroke-width="0.28">10</text>
<line x1="339.9" y1="51.91" x2="343.3" y2="51.91" stroke="#000" stroke-width="1.1" />
<text x="339.3" y="54.46" font-size="7.6" font-weight="bold" text-anchor="end"  stroke="#000" stroke-width="0.28">15</text>
<line x1="339.9" y1="34.98" x2="343.3" y2="34.98" stroke="#000" stroke-width="1.1" />
<text x="339.3" y="37.53" font-size="7.6" font-weight="bold" text-anchor="end"  stroke="#000" stroke-width="0.28">20</text>
<line x1="343.8" y1="119.63" x2="343.8" y2="122.23" stroke="#000" stroke-width="1.1" />
<text x="343.8" y="129.4" font-size="7.6" font-weight="bold" text-anchor="middle"  stroke="#000" stroke-width="0.28">0</text>
<line x1="368.52" y1="119.63" x2="368.52" y2="122.23" stroke="#000" stroke-width="1.1" />
<text x="368.52" y="129.4" font-size="7.6" font-weight="bold" text-anchor="middle"  stroke="#000" stroke-width="0.28">20</text>
<line x1="393.24" y1="119.63" x2="393.24" y2="122.23" stroke="#000" stroke-width="1.1" />
<text x="393.24" y="129.4" font-size="7.6" font-weight="bold" text-anchor="middle"  stroke="#000" stroke-width="0.28">40</text>
<line x1="417.96" y1="119.63" x2="417.96" y2="122.23" stroke="#000" stroke-width="1.1" />
<text x="417.96" y="129.4" font-size="7.6" font-weight="bold" text-anchor="middle"  stroke="#000" stroke-width="0.28">60</text>
<line x1="442.68" y1="119.63" x2="442.68" y2="122.23" stroke="#000" stroke-width="1.1" />
<text x="442.68" y="129.4" font-size="7.6" font-weight="bold" text-anchor="middle"  stroke="#000" stroke-width="0.28">80</text>
<line x1="467.4" y1="119.63" x2="467.4" y2="122.23" stroke="#000" stroke-width="1.1" />
<text x="467.4" y="129.4" font-size="7.6" font-weight="bold" text-anchor="middle"  stroke="#000" stroke-width="0.28">100</text>
<text x="325" y="76.9" font-size="9.4" font-weight="normal" text-anchor="middle" transform="rotate(-90 325 76.9)" stroke="#000" stroke-width="0.2">% Specific lysis</text>
<text x="405.5" y="140.9" font-size="10" font-weight="normal" text-anchor="middle" stroke="#000" stroke-width="0.2">E:T ratio</text>
<polyline points="345.04,102.19 347.51,102.7 356.16,102.7 380.88,102.36 467.4,101.18" fill="none" stroke="#000" stroke-width="1.25" stroke-dasharray="0.9 1.3"/>
<polyline points="345.04,99.65 347.51,96.61 356.16,86.28 380.88,69.52 467.4,45.14" fill="none" stroke="#000" stroke-width="1.8" stroke-linejoin="round"/>
<rect x="339.81" y="99.2" width="7" height="7" fill="#fff" fill-opacity="0.7" stroke="#000" stroke-width="1.0"/>
<rect x="341.54" y="99.2" width="7" height="7" fill="#fff" fill-opacity="0.7" stroke="#000" stroke-width="1.0"/>
<rect x="344.01" y="99.2" width="7" height="7" fill="#fff" fill-opacity="0.7" stroke="#000" stroke-width="1.0"/>
<rect x="352.66" y="99.2" width="7" height="7" fill="#fff" fill-opacity="0.7" stroke="#000" stroke-width="1.0"/>
<rect x="377.38" y="98.86" width="7" height="7" fill="#fff" fill-opacity="0.7" stroke="#000" stroke-width="1.0"/>
<rect x="463.9" y="97.51" width="7" height="7" fill="#fff" fill-opacity="0.7" stroke="#000" stroke-width="1.0"/>
<rect x="341.15" y="100.64" width="4.8" height="4.8" fill="#000"/>
<rect x="342.64" y="99.79" width="4.8" height="4.8" fill="#000"/>
<rect x="345.11" y="100.3" width="4.8" height="4.8" fill="#000"/>
<rect x="353.76" y="100.3" width="4.8" height="4.8" fill="#000"/>
<rect x="378.48" y="99.96" width="4.8" height="4.8" fill="#000"/>
<rect x="465" y="98.78" width="4.8" height="4.8" fill="#000"/>
<circle cx="345.04" cy="99.31" r="3.5" fill="#fff" fill-opacity="0.75" stroke="#000" stroke-width="1.0"/>
<circle cx="347.51" cy="93.56" r="3.5" fill="#fff" fill-opacity="0.75" stroke="#000" stroke-width="1.0"/>
<circle cx="356.16" cy="86.11" r="3.5" fill="#fff" fill-opacity="0.75" stroke="#000" stroke-width="1.0"/>
<circle cx="380.88" cy="69.35" r="3.5" fill="#fff" fill-opacity="0.75" stroke="#000" stroke-width="1.0"/>
<circle cx="467.4" cy="43.45" r="3.5" fill="#fff" fill-opacity="0.75" stroke="#000" stroke-width="1.0"/>
<circle cx="345.04" cy="99.65" r="2.3" fill="#000"/>
<circle cx="347.51" cy="96.61" r="2.3" fill="#000"/>
<circle cx="356.16" cy="86.28" r="2.3" fill="#000"/>
<circle cx="380.88" cy="69.52" r="2.3" fill="#000"/>
<circle cx="467.4" cy="45.14" r="2.3" fill="#000"/>
<text x="484" y="46" font-size="7.8" font-weight="normal" text-anchor="start" stroke="#000" stroke-width="0.15">anti-host</text>
<text x="484.3" y="87.4" font-size="7.8" font-weight="normal" text-anchor="start" stroke="#000" stroke-width="0.15">anti-donor</text>
<rect x="341.2" y="145.3" width="150.9" height="47.8" fill="#fff" stroke="#000" stroke-width="0.8"/>
<text x="363.2" y="156.6" font-size="7.85" font-weight="normal" text-anchor="start" stroke="#000" stroke-width="0.18">B6.WT donor CD8<tspan font-size="5.2" dy="-2.8">+</tspan><tspan dy="2.8"> </tspan>T + P210</text>
<text x="363.2" y="166.8" font-size="7.85" font-weight="normal" text-anchor="start" stroke="#000" stroke-width="0.18">B6.DNAM-1<tspan font-size="5.2" dy="-2.8">-/-</tspan><tspan dy="2.8"> </tspan>donor CD8<tspan font-size="5.2" dy="-2.8">+</tspan><tspan dy="2.8"> </tspan>T + P210</text>
<text x="363.2" y="177.2" font-size="7.85" font-weight="normal" text-anchor="start" stroke="#000" stroke-width="0.18">B6.WT donor CD8<tspan font-size="5.2" dy="-2.8">+</tspan><tspan dy="2.8"> </tspan>T + EL-4</text>
<text x="363.2" y="187.6" font-size="7.85" font-weight="normal" text-anchor="start" stroke="#000" stroke-width="0.18">B6.DNAM-1<tspan font-size="5.2" dy="-2.8">-/-</tspan><tspan dy="2.8"> </tspan>donor CD8<tspan font-size="5.2" dy="-2.8">+</tspan><tspan dy="2.8"> </tspan>T + EL-4</text>
<ellipse cx="352.2" cy="153.8" rx="4.3" ry="3.6" fill="#fff" stroke="#000" stroke-width="1.1"/>
<line x1="347.4" y1="164" x2="357" y2="164" stroke="#000" stroke-width="1.2" />
<circle cx="352.2" cy="164.0" r="2.2" fill="#000"/>
<rect x="348.2" y="170.4" width="8" height="8" fill="#fff" stroke="#000" stroke-width="0.9"/>
<rect x="346.8" y="184.2" width="1.3" height="1.2" fill="#000"/>
<rect x="356.3" y="184.2" width="1.3" height="1.2" fill="#000"/>
<rect x="350.0" y="182.60000000000002" width="4.4" height="4.4" fill="#000"/>
</svg></body></html>
